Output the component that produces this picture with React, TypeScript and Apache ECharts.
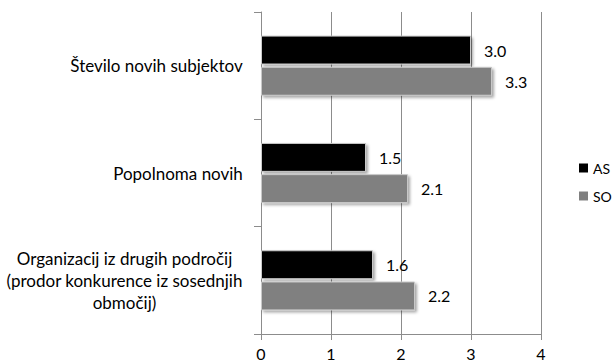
import React, { useEffect, useRef } from "react";
import * as echarts from "echarts";

const categories = [
  "Število novih subjektov",
  "Popolnoma novih",
  "Organizacij iz drugih področij\n(prodor konkurence iz sosednjih\nobmočij)",
];
const seriesNames = ["AS", "SO"];
const asValues = [3.0, 1.5, 1.6];
const soValues = [3.3, 2.1, 2.2];
const xTicks = [0, 1, 2, 3, 4];

const FONT = "Lato, 'Open Sans', sans-serif";
const CAT_FONT_SIZE = 17;

// Width of the widest line of a (possibly multi-line) label.
function blockWidth(text: string): number {
  const ctx = document.createElement("canvas").getContext("2d");
  if (!ctx) return 0;
  ctx.font = `${CAT_FONT_SIZE}px ${FONT}`;
  return Math.ceil(Math.max(...text.split("\n").map((l) => ctx.measureText(l).width)));
}

export default function App() {
  const ref = useRef<HTMLDivElement>(null);

  useEffect(() => {
    if (!ref.current) return;
    const chart = echarts.init(ref.current, undefined, { renderer: "svg" });

    // Multi-line category labels: block sits right-aligned to the axis,
    // each line centred inside the block.
    const rich: Record<string, any> = {};
    categories.forEach((c, i) => {
      rich["c" + i] = {
        width: blockWidth(c),
        align: "center",
        fontFamily: FONT,
        fontSize: CAT_FONT_SIZE,
        lineHeight: 22,
        color: "#000",
      };
    });
    const catFormatter = (value: string) => {
      const i = categories.indexOf(value);
      return value
        .split("\n")
        .map((line) => `{c${i}|${line}}`)
        .join("\n");
    };

    const barStyle = (color: string) => ({
      color,
      borderColor: "#c8c8c8",
      borderWidth: 1,
      shadowColor: "rgba(0,0,0,0.35)",
      shadowBlur: 3,
      shadowOffsetX: 2,
      shadowOffsetY: 2,
    });
    const label = {
      show: true,
      position: "right",
      distance: 13,
      fontFamily: FONT,
      fontSize: 16,
      color: "#000",
      formatter: (p: any) => Number(p.value).toFixed(1),
    };
    chart.setOption({
      animation: false,
      backgroundColor: "#fff",
      grid: { left: 261, right: 73, top: 12, bottom: 29 },
      legend: {
        orient: "vertical",
        left: 579,
        top: 161,
        padding: 0,
        itemWidth: 9,
        itemHeight: 9,
        itemGap: 14,
        icon: "rect",
        itemStyle: { shadowBlur: 0, shadowOffsetX: 0, shadowOffsetY: 0, borderWidth: 0 },
        textStyle: { fontFamily: FONT, fontSize: 14, color: "#000" },
        data: seriesNames,
      },
      xAxis: {
        type: "value",
        min: xTicks[0],
        max: xTicks[xTicks.length - 1],
        interval: 1,
        axisLine: { show: true, lineStyle: { color: "#8c8c8c" } },
        axisTick: { show: true, length: 6, lineStyle: { color: "#8c8c8c" } },
        splitLine: { show: true, lineStyle: { color: "#8c8c8c" } },
        axisLabel: { fontFamily: FONT, fontSize: 16, color: "#000", margin: 11 },
      },
      yAxis: {
        type: "category",
        inverse: true,
        data: categories,
        axisLine: { show: true, lineStyle: { color: "#8c8c8c" } },
        axisTick: { show: true, length: 7, lineStyle: { color: "#8c8c8c" } },
        axisLabel: {
          align: "right",
          margin: 18,
          formatter: catFormatter,
          rich,
        },
      },
      series: [
        {
          name: seriesNames[0],
          type: "bar",
          data: asValues,
          barGap: "8%",
          barCategoryGap: "44%",
          itemStyle: barStyle("#000000"),
          label,
        },
        {
          name: seriesNames[1],
          type: "bar",
          data: soValues,
          itemStyle: barStyle("#808080"),
          label,
        },
      ],
    });
    return () => chart.dispose();
  }, []);

  return <div ref={ref} style={{ width: 614, height: 363, position: "absolute", left: 0, top: 0 }} />;
}
